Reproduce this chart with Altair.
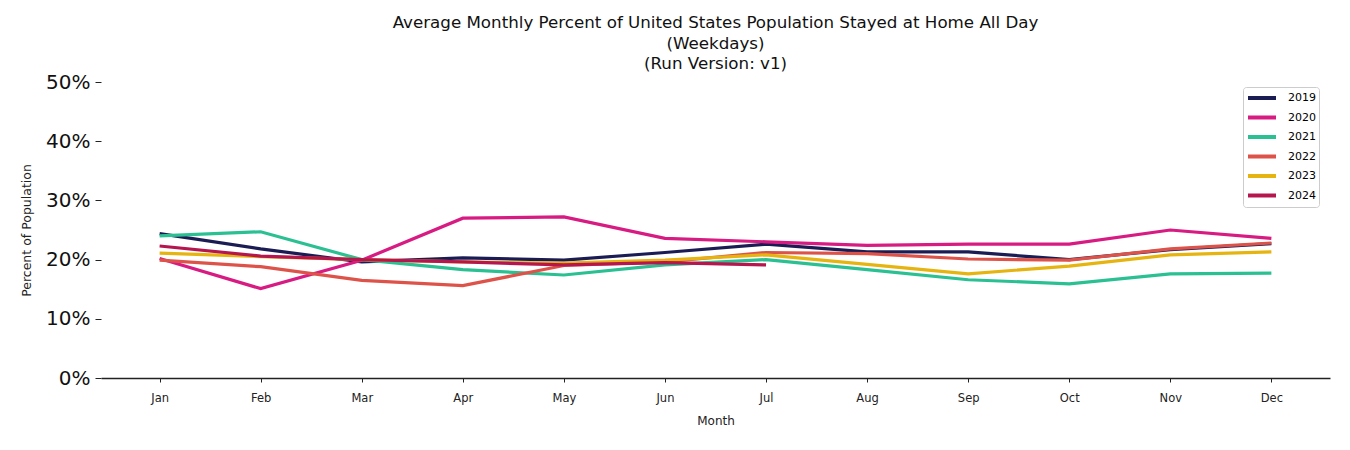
import altair as alt
import pandas as pd

months = ["Jan", "Feb", "Mar", "Apr", "May", "Jun", "Jul", "Aug", "Sep", "Oct", "Nov", "Dec"]
years = ["2019", "2020", "2021", "2022", "2023", "2024"]
colors = ["#1c1c54", "#d81b82", "#2bc092", "#de5349", "#e6b410", "#b5164e"]

v2019 = [24.4, 21.8, 19.6, 20.3, 19.9, 21.2, 22.6, 21.3, 21.3, 20.0, 21.7, 22.7]
v2020 = [20.2, 15.1, 19.9, 27.0, 27.2, 23.6, 23.0, 22.4, 22.6, 22.6, 25.0, 23.6]
v2021 = [24.0, 24.7, 20.0, 18.3, 17.4, 19.1, 20.0, 18.3, 16.6, 15.9, 17.6, 17.7]
v2022 = [19.9, 18.8, 16.5, 15.6, 19.0, 19.6, 21.2, 21.0, 20.1, 19.9, 21.8, 22.8]
v2023 = [21.1, 20.5, 20.0, 19.6, 19.4, 19.9, 20.8, 19.2, 17.6, 18.9, 20.8, 21.3]
v2024 = [22.3, 20.6, 20.0, 19.6, 19.1, 19.5, 19.1]

series = [v2019, v2020, v2021, v2022, v2023, v2024]
rows = []
for yr, vals in zip(years, series):
    for m, v in zip(months, vals):
        rows.append({"Month": m, "Year": yr, "Value": v / 100})
df = pd.DataFrame(rows)

chart = alt.Chart(df).mark_line(strokeWidth=3.2).encode(
    x=alt.X("Month:N", sort=months, title="Month",
            scale=alt.Scale(type="point", padding=0.58),
            axis=alt.Axis(labelAngle=0, labelFontSize=11.5, titleFontSize=12,
                          labelFont="DejaVu Sans", titleFont="DejaVu Sans",
                          domainColor="#222222", domainWidth=1.5, tickColor="#222222",
                          tickSize=4, labelPadding=10, titlePadding=12, grid=False,
                          labelColor="#222222", titleColor="#222222", titleFontWeight="normal")),
    y=alt.Y("Value:Q", title="Percent of Population",
            scale=alt.Scale(domain=[0, 0.5]),
            axis=alt.Axis(format=".0%", values=[0, 0.1, 0.2, 0.3, 0.4, 0.5], labelFontSize=20,
                          titleFontSize=12.5, labelFont="DejaVu Sans", titleFont="DejaVu Sans",
                          domain=False, grid=False, tickColor="#222222", tickSize=6,
                          labelPadding=5, titlePadding=12, labelColor="#111111",
                          titleColor="#222222", titleFontWeight="normal")),
    color=alt.Color("Year:N", scale=alt.Scale(domain=years, range=colors),
                    legend=alt.Legend(title=None, orient="none", legendX=1142, legendY=5,
                                      symbolType="M-1,0L3.667,0",
                                      symbolStrokeWidth=4, symbolSize=144, labelFontSize=11,
                                      labelFont="DejaVu Sans", labelOffset=26, fillColor="white",
                                      strokeColor="#cccccc", padding=3, cornerRadius=3,
                                      rowPadding=3.5)),
).properties(
    width=1229,
    height=296,
    title=alt.TitleParams(
        text=["Average Monthly Percent of United States Population Stayed at Home All Day",
              "(Weekdays)", "(Run Version: v1)"],
        font="DejaVu Sans", fontSize=16.7, fontWeight="normal", color="#111111",
        lineHeight=20.5, anchor="middle", offset=-1),
    autosize=alt.AutoSizeParams(type="none"),
    padding={"left": 93, "top": 74, "right": 5, "bottom": 56},
).configure_view(stroke=None)

chart.save("out.html", embed_options={"renderer": "svg", "actions": False})
